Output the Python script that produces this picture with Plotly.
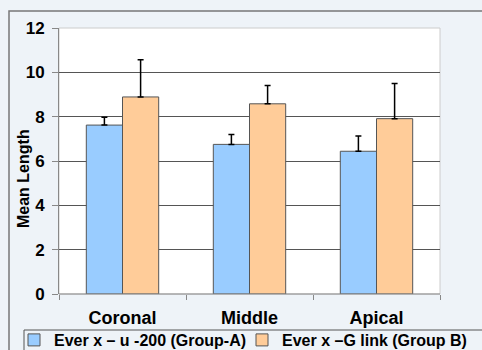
import plotly.graph_objects as go

categories = ["Coronal", "Middle", "Apical"]
group_a_name = "Ever x – u -200 (Group-A)"
group_b_name = "Ever x –G link (Group B)"
group_a = [7.62, 6.75, 6.44]
group_a_err = [0.35, 0.44, 0.69]
group_b = [8.89, 8.58, 7.91]
group_b_err = [1.68, 0.83, 1.59]
y_ticks = [0, 2, 4, 6, 8, 10, 12]
y_title = "Mean Length"

W, H = 482, 350
L, R, T, B = 59, 42, 28, 56
pw, ph = W - L - R, H - T - B


def px(x):
    return (x - L) / pw


def py(y):
    return (H - B - y) / ph


FONT = "Liberation Sans, Arial, sans-serif"
BG = "#EEF3F8"

fig = go.Figure()
for name, vals, errs, color, leg in [
    (group_a_name, group_a, group_a_err, "#99CCFF", "legend"),
    (group_b_name, group_b, group_b_err, "#FFCC99", "legend2"),
]:
    fig.add_trace(go.Bar(
        x=categories, y=vals, name=name, legend=leg,
        marker=dict(color=color, line=dict(color="#555555", width=1)),
        error_y=dict(type="data", symmetric=False, array=errs,
                     arrayminus=[0] * len(errs), color="black",
                     thickness=1.5, width=3),
    ))

legend_common = dict(orientation="h", yanchor="top", xanchor="left",
                     font=dict(family=FONT, size=16, color="black", weight="bold"),
                     bgcolor="rgba(0,0,0,0)", borderwidth=0, itemwidth=30)

fig.update_layout(
    width=W, height=H,
    margin=dict(l=L, r=R, t=T, b=B, autoexpand=False),
    paper_bgcolor=BG, plot_bgcolor="white",
    barmode="group", bargap=0.43, bargroupgap=0,
    font=dict(family=FONT, color="black", weight="bold"),
    showlegend=True,
    legend=dict(x=px(14), y=py(323), **legend_common),
    legend2=dict(x=px(242), y=py(323), **legend_common),
    xaxis=dict(range=[-0.5, 2.5], tickson="boundaries", ticks="outside", ticklen=5,
               tickcolor="#888888", showline=False, showgrid=False,
               tickfont=dict(family=FONT, size=18, weight="bold"),
               ticklabelstandoff=11),
    yaxis=dict(range=[0, 12], tickvals=y_ticks, ticks="outside", ticklen=6,
               tickcolor="#888888", showline=True, linecolor="#888888", linewidth=1,
               showgrid=True, gridcolor="#555555", gridwidth=1, zeroline=False,
               tickfont=dict(family=FONT, size=17, weight="bold"),
               ticklabelstandoff=4),
    annotations=[dict(text=y_title, textangle=-90, xref="paper", yref="paper",
                      x=px(23), y=py(179), xanchor="center", yanchor="middle",
                      showarrow=False,
                      font=dict(family=FONT, size=16, color="black", weight="bold"))],
)

shapes = [
    dict(type="rect", xref="paper", yref="paper", x0=0, y0=0, x1=1, y1=1,
         line=dict(color="#CCCCCC", width=1), layer="below"),
    dict(type="line", xref="paper", yref="paper", x0=0, y0=0, x1=1, y1=0,
         line=dict(color="#888888", width=1)),
    dict(type="rect", xref="paper", yref="paper", x0=px(9), y0=py(11), x1=px(520), y1=py(420),
         line=dict(color="#777777", width=1.5)),
    dict(type="rect", xref="paper", yref="paper", x0=px(24), y0=py(330), x1=px(520), y1=py(420),
         line=dict(color="#555555", width=1)),
]
fig.update_layout(shapes=shapes)

fig.write_html(
    "out.html",
    config={"displayModeBar": False},
    post_script="document.body.style.margin='0';document.body.style.overflow='hidden';",
)
